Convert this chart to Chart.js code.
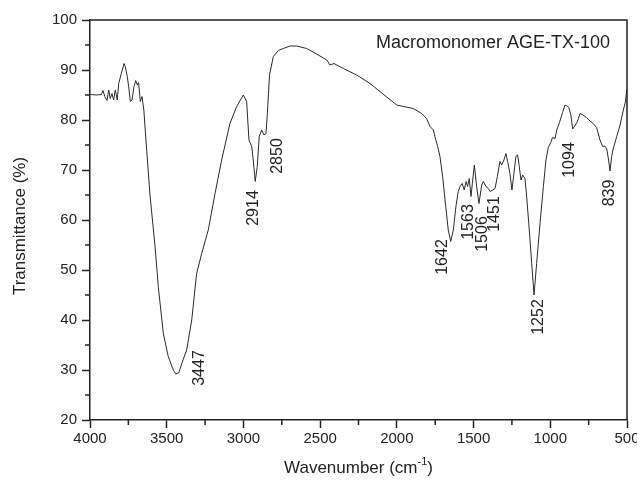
<!DOCTYPE html>
<html>
<head>
<meta charset="utf-8">
<script src="https://cdn.jsdelivr.net/npm/chart.js@4.4.1/dist/chart.umd.min.js"></script>
<style>
  html,body{margin:0;padding:0;background:#fff}
  #wrap{width:637px;height:481px}
</style>
</head>
<body>
<div id="wrap"><canvas id="c" width="637" height="481"></canvas></div>
<script>
/* ---------- data ---------- */
const wavenumber = [
  4000,3992,3960,3926,3915,3904,3889,3878,3868,3857,3846,3835,3822,3813,3796,3778,3770,3757,3748,3737,
  3726,3713,3702,3692,3683,3672,3661,3649,3640,3609,3576,3555,3522,3490,3457,3440,3420,3402,3370,3337,
  3305,3272,3229,3185,3142,3088,3044,3001,2979,2964,2946,2936,2923,2910,2897,2881,2866,2853,2844,2830,
  2805,2773,2740,2696,2653,2588,2523,2457,2436,2410,2349,2262,2175,2001,1958,1893,1838,1806,1784,1762,
  1752,1734,1719,1701,1686,1665,1649,1632,1615,1600,1588,1574,1561,1549,1539,1528,1517,1508,1495,1480,
  1465,1447,1436,1419,1404,1393,1375,1360,1345,1328,1317,1302,1289,1278,1263,1250,1237,1224,1213,1202,
  1191,1180,1165,1154,1137,1121,1106,1089,1067,1045,1028,1013,997,985,969,958,940,920,904,890,
  879,866,854,841,826,806,787,764,738,720,698,676,659,645,632,620,611,600,592,567,
  545,524,511,500
];
const transmittance = [
  85.1,85.1,85.0,85.1,85.9,84.7,83.9,86.0,84.3,85.3,84.0,86.0,84.0,87.3,89.3,91.3,90.7,88.7,86.7,83.7,
  84.0,86.7,87.9,87.0,87.5,83.7,84.7,82.0,78.0,65.0,54.7,46.7,37.3,32.7,30.0,29.2,29.5,31.3,34.0,40.0,
  49.3,53.3,58.0,65.3,72.0,79.3,82.7,85.0,83.7,76.0,74.7,72.0,67.7,70.7,76.7,78.0,77.0,77.3,81.3,89.0,
  92.7,93.9,94.3,94.8,94.8,94.3,93.2,92.0,91.0,91.3,90.3,89.0,87.3,83.0,82.7,82.3,81.3,80.3,78.7,78.0,
  76.7,74.7,72.7,68.5,64.0,58.0,55.7,58.0,62.7,65.7,66.7,67.3,66.0,67.7,66.7,68.3,64.7,67.3,71.0,66.7,
  63.3,67.0,67.7,66.7,66.3,65.7,66.0,66.3,68.7,71.7,71.0,72.0,73.3,71.7,69.3,66.0,69.3,72.7,73.0,70.7,
  68.0,69.0,68.3,64.7,58.0,51.3,45.0,51.3,59.3,66.7,72.0,74.5,75.5,76.5,76.3,78.0,79.5,81.5,83.0,82.8,
  82.5,81.0,78.2,78.8,79.5,81.3,81.0,80.5,79.7,79.3,78.5,76.0,74.7,74.8,74.2,72.0,69.8,72.7,74.0,76.7,
  79.0,82.0,83.5,86.3
];
const xTicks = [4000,3500,3000,2500,2000,1500,1000,500];
const yTicks = [20,30,40,50,60,70,80,90,100];
const peakLabels  = ['3447','2914','2850','1642','1563','1506','1451','1252','1094','839'];
const peakAnchorX = [3283,2931,2778,1699,1530,1442,1360,1077,872,611];
const peakAnchorY = [30.4,62.4,72.8,52.6,59.6,57.2,61.2,40.6,72.0,65.4];
const sampleName = 'Macromonomer AGE-TX-100';
const xTitle = 'Wavenumber (cm';
const yTitle = 'Transmittance (%)';

/* ---------- style ---------- */
const FONT = '"Liberation Sans", Arial, sans-serif';
const INK  = '#222';

/* minor ticks, frame, text annotations */
const decor = {
  id:'decor',
  afterDraw(chart){
    const {ctx, chartArea:a, scales:{x,y}} = chart;
    ctx.save();
    ctx.strokeStyle = INK; ctx.lineWidth = 1.5;
    // frame top + right
    ctx.beginPath();
    ctx.moveTo(a.left, a.top); ctx.lineTo(a.right, a.top); ctx.lineTo(a.right, a.bottom);
    ctx.stroke();
    // minor ticks
    ctx.beginPath();
    for(let v=750; v<4000; v+=500){ const px=x.getPixelForValue(v); ctx.moveTo(px,a.bottom); ctx.lineTo(px,a.bottom+5); }
    for(let v=25; v<100; v+=10){ const py=y.getPixelForValue(v); ctx.moveTo(a.left,py); ctx.lineTo(a.left-5,py); }
    ctx.stroke();

    ctx.fillStyle = INK;
    // peak labels, rotated
    ctx.font = '16px '+FONT;
    ctx.textAlign='center'; ctx.textBaseline='middle';
    peakLabels.forEach((t,i)=>{
      ctx.save();
      ctx.translate(x.getPixelForValue(peakAnchorX[i]), y.getPixelForValue(peakAnchorY[i]));
      ctx.rotate(-Math.PI/2);
      ctx.fillText(t,0,0);
      ctx.restore();
    });
    // sample name
    ctx.font = '18px '+FONT;
    ctx.textAlign='right'; ctx.textBaseline='alphabetic';
    ctx.fillText(sampleName, a.right-17, a.top+28);
    // y title
    ctx.save();
    ctx.font = '17px '+FONT;
    ctx.textAlign='center'; ctx.textBaseline='middle';
    ctx.translate(20, 226); ctx.rotate(-Math.PI/2);
    ctx.fillText(yTitle,0,0);
    ctx.restore();
    // x title with superscript
    ctx.font = '17px '+FONT;
    const w1 = ctx.measureText(xTitle).width;
    ctx.font = '11px '+FONT; const w2 = ctx.measureText('-1').width;
    ctx.font = '17px '+FONT; const w3 = ctx.measureText(')').width;
    let sx = (a.left+a.right)/2 - (w1+w2+w3)/2;
    const base = 473;
    ctx.textAlign='left';
    ctx.fillText(xTitle, sx, base); sx += w1;
    ctx.font = '11px '+FONT; ctx.fillText('-1', sx, base-8); sx += w2;
    ctx.font = '17px '+FONT; ctx.fillText(')', sx, base);
    ctx.restore();
  }
};

new Chart(document.getElementById('c'), {
  type:'line',
  data:{
    datasets:[{
      data: wavenumber.map((w,i)=>({x:w, y:transmittance[i]})),
      borderColor:'#2a2a2a', borderWidth:1, pointRadius:0, tension:0, fill:false
    }]
  },
  options:{
    responsive:false, animation:false, devicePixelRatio:1,
    layout:{padding:{top:20,right:10,left:0,bottom:0}},
    plugins:{legend:{display:false}, tooltip:{enabled:false}},
    scales:{
      x:{
        type:'linear', reverse:true, min:500, max:4000,
        afterBuildTicks:s=>{ s.ticks = xTicks.map(v=>({value:v})); },
        ticks:{font:{family:FONT,size:15}, color:INK, padding:2, maxRotation:0, autoSkip:false,
               callback:v=>String(v)},
        grid:{drawOnChartArea:false, tickLength:8, tickColor:INK, tickWidth:1.5},
        border:{color:INK, width:1.5},
        afterFit:s=>{ s.height=61; s.paddingLeft=0; s.paddingRight=0; }
      },
      y:{
        min:20, max:100,
        afterBuildTicks:s=>{ s.ticks = yTicks.map(v=>({value:v})); },
        ticks:{font:{family:FONT,size:15}, color:INK, padding:5, autoSkip:false,
               callback:v=>String(v)},
        grid:{drawOnChartArea:false, tickLength:8, tickColor:INK, tickWidth:1.5},
        border:{color:INK, width:1.5},
        afterFit:s=>{ s.width=90; s.paddingTop=0; s.paddingBottom=0; }
      }
    }
  },
  plugins:[decor]
});
</script>
</body>
</html>
